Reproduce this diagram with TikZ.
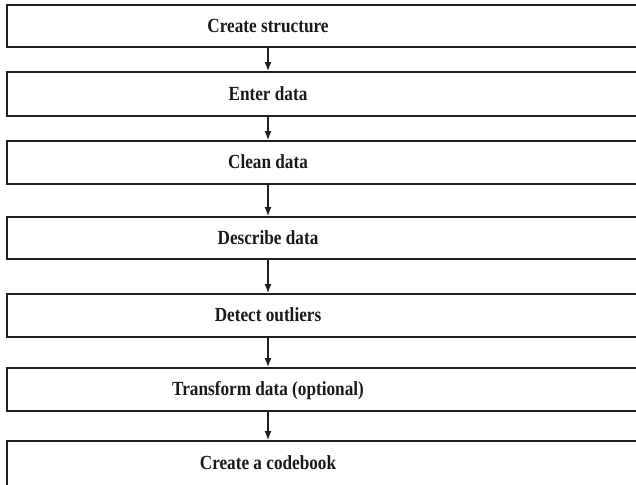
\documentclass[tikz,border=0pt]{standalone}
\usepackage{fontspec}
\usepackage{graphicx}
\setmainfont{Liberation Serif}
\usetikzlibrary{arrows.meta}
\newcommand{\narrowtxt}[1]{\scalebox{0.86}[1]{#1}}
\tikzset{
  stepbox/.style={draw=black!88, line width=1.8pt, rectangle, minimum width=643pt, inner sep=0pt},
  lbl/.style={font=\fontsize{20}{22}\selectfont\bfseries, inner sep=0pt, text=black!90, text height=13.5pt, text depth=4pt},
  arr/.style={line width=1.4pt, draw=black!88, -{Latex[length=9pt,width=7pt]}}
}
\begin{document}
\begin{tikzpicture}[x=1pt,y=-1pt]
\useasboundingbox (0,0) rectangle (636,484);
\clip (0,0) rectangle (636,484);
\node[stepbox, minimum height=42pt] (b1) at (328.5,26) {};
\node[stepbox, minimum height=44pt] (b2) at (328.5,94) {};
\node[stepbox, minimum height=43pt] (b3) at (328.5,162.5) {};
\node[stepbox, minimum height=42pt] (b4) at (328.5,238) {};
\node[stepbox, minimum height=43pt] (b5) at (328.5,315.5) {};
\node[stepbox, minimum height=43pt] (b6) at (328.5,389.5) {};
\node[stepbox, minimum height=80pt] (b7) at (328.5,481) {};
\node[lbl] (t1) at (268,27.5) {\narrowtxt{Create structure}};
\node[lbl] (t2) at (268,95.5) {\narrowtxt{Enter data}};
\node[lbl] (t3) at (268,164) {\narrowtxt{Clean data}};
\node[lbl] (t4) at (268,239.5) {\narrowtxt{Describe data}};
\node[lbl] (t5) at (268,317) {\narrowtxt{Detect outliers}};
\node[lbl] (t6) at (268,391) {\narrowtxt{Transform data (optional)}};
\node[lbl] (t7) at (268,465) {\narrowtxt{Create a codebook}};
\draw[arr] (b1.south -| t1) -- (b2.north -| t1);
\draw[arr] (b2.south -| t2) -- (b3.north -| t2);
\draw[arr] (b3.south -| t3) -- (b4.north -| t3);
\draw[arr] (b4.south -| t4) -- (b5.north -| t4);
\draw[arr] (b5.south -| t5) -- (b6.north -| t5);
\draw[arr] (b6.south -| t6) -- (b7.north -| t6);
\end{tikzpicture}
\end{document}
